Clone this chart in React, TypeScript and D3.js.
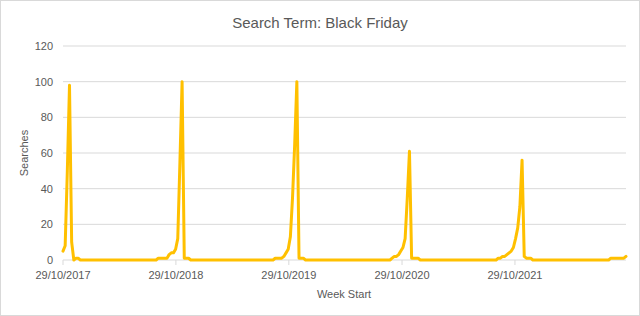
import React from "react";
import * as d3 from "d3";

// Weekly series (Google Trends style), week starts from 29/10/2017
const startWeek = "2017-10-29";
const searches: number[] = [
  // 2017-10-29 ..
  5, 8, 50, 98, 10, 0, 1, 1, 0, 0,
  0, 0, 0, 0, 0, 0, 0, 0, 0, 0,
  0, 0, 0, 0, 0, 0, 0, 0, 0, 0,
  0, 0, 0, 0, 0, 0, 0, 0, 0, 0,
  0, 0, 0, 0, 1, 1, 1, 1, 1, 3,
  4, 4, 6, 12, 55, 100, 1, 1, 1, 0,
  0, 0, 0, 0, 0, 0, 0, 0, 0, 0,
  0, 0, 0, 0, 0, 0, 0, 0, 0, 0,
  0, 0, 0, 0, 0, 0, 0, 0, 0, 0,
  0, 0, 0, 0, 0, 0, 0, 0, 1, 1,
  1, 1, 2, 4, 6, 13, 35, 65, 100, 1,
  1, 1, 0, 0, 0, 0, 0, 0, 0, 0,
  0, 0, 0, 0, 0, 0, 0, 0, 0, 0,
  0, 0, 0, 0, 0, 0, 0, 0, 0, 0,
  0, 0, 0, 0, 0, 0, 0, 0, 0, 0,
  0, 0, 1, 2, 2, 3, 5, 7, 12, 35,
  61, 1, 1, 1, 1, 0, 0, 0, 0, 0,
  0, 0, 0, 0, 0, 0, 0, 0, 0, 0,
  0, 0, 0, 0, 0, 0, 0, 0, 0, 0,
  0, 0, 0, 0, 0, 0, 0, 0, 0, 0,
  0, 1, 1, 2, 2, 3, 4, 5, 7, 12,
  18, 30, 56, 2, 1, 1, 1, 0, 0, 0,
  0, 0, 0, 0, 0, 0, 0, 0, 0, 0,
  0, 0, 0, 0, 0, 0, 0, 0, 0, 0,
  0, 0, 0, 0, 0, 0, 0, 0, 0, 0,
  0, 0, 0, 1, 1, 1, 1, 1, 1, 1,
  2,
];

const xTickLabels = ["29/10/2017", "29/10/2018", "29/10/2019", "29/10/2020", "29/10/2021"];
const yTicks = [0, 20, 40, 60, 80, 100, 120];

const title = "Search Term: Black Friday";
const xTitle = "Week Start";
const yTitle = "Searches";

const W = 640;
const H = 316;
const FONT = "'Liberation Sans', Arial, sans-serif";
const TXT = "#595959";
const GRID = "#d9d9d9";

export default function App() {
  const parse = d3.timeParse("%Y-%m-%d");
  const parseLabel = d3.timeParse("%d/%m/%Y");
  const start = parse(startWeek) as Date;
  const dates = searches.map((_, i) => d3.timeWeek.offset(start, i));
  const data = dates.map((d, i) => ({ date: d, value: searches[i] }));

  const x = d3
    .scaleTime()
    .domain([dates[0], dates[dates.length - 1]])
    .range([63, 626]);
  const y = d3.scaleLinear().domain([0, 120]).range([260, 46]);

  const line = d3
    .line<{ date: Date; value: number }>()
    .x((d) => x(d.date))
    .y((d) => y(d.value));

  return (
    <svg
      width={W}
      height={H}
      style={{ position: "absolute", left: 0, top: 0, background: "#fff" }}
    >
      <rect x={0.5} y={0.5} width={W - 1} height={H - 1} fill="#fff" stroke={GRID} />
      <text x={320} y={28} textAnchor="middle" fontFamily={FONT} fontSize={15} fill={TXT}>
        {title}
      </text>
      {yTicks.map((t) => (
        <g key={t}>
          {t > 0 && (
            <line x1={63} x2={626} y1={y(t)} y2={y(t)} stroke={GRID} strokeWidth={1} />
          )}
          <text
            x={53}
            y={y(t) + 4}
            textAnchor="end"
            fontFamily={FONT}
            fontSize={11}
            fill={TXT}
          >
            {t}
          </text>
        </g>
      ))}
      <line x1={63} x2={626} y1={y(0)} y2={y(0)} stroke={GRID} strokeWidth={1} />
      {xTickLabels.map((lab) => {
        const xp = x(parseLabel(lab) as Date);
        return (
          <g key={lab}>
            <line x1={xp} x2={xp} y1={y(0)} y2={y(0) + 5} stroke={GRID} />
            <text x={xp} y={279} textAnchor="middle" fontFamily={FONT} fontSize={11} fill={TXT}>
              {lab}
            </text>
          </g>
        );
      })}
      <path
        d={line(data) || ""}
        fill="none"
        stroke="#FFC000"
        strokeWidth={3}
        strokeLinejoin="round"
        strokeLinecap="round"
      />
      <text x={344} y={298} textAnchor="middle" fontFamily={FONT} fontSize={11} fill={TXT}>
        {xTitle}
      </text>
      <text
        transform={`translate(28,153) rotate(-90)`}
        textAnchor="middle"
        fontFamily={FONT}
        fontSize={11}
        fill={TXT}
      >
        {yTitle}
      </text>
    </svg>
  );
}
